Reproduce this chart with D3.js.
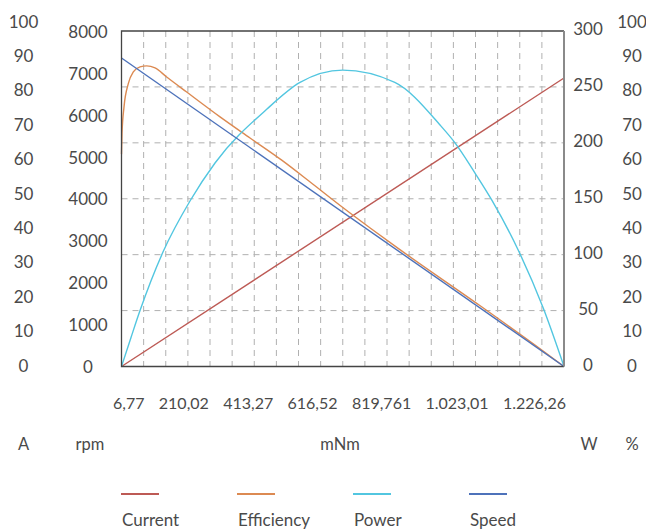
<!DOCTYPE html>
<html>
<head>
<meta charset="utf-8">
<script src="https://cdn.jsdelivr.net/npm/d3@7"></script>
<style>
  html, body { margin: 0; padding: 0; background: #fff; }
  text { font-family: Lato, "Open Sans", sans-serif; fill: #4a4a4a; }
</style>
</head>
<body>
<svg width="646" height="531"></svg>
<script>
// --- data ---
const torqueLabels = ['6,77', '210,02', '413,27', '616,52', '819,761', '1.023,01', '1.226,26'];
const ampTicks = [0, 10, 20, 30, 40, 50, 60, 70, 80, 90, 100];
const rpmTicks = [0, 1000, 2000, 3000, 4000, 5000, 6000, 7000, 8000];
const wattTicks = [0, 50, 100, 150, 200, 250, 300];
const pctTicks = [0, 10, 20, 30, 40, 50, 60, 70, 80, 90, 100];
const units = ['A', 'rpm', 'mNm', 'W', '%'];

// [torque mNm, value]
const currentData = [[6.77, 0], [1226.26, 86]];
const speedData = [[6.77, 7357], [1226.26, 0]];
const efficiencyData = [
  [6.77, 63.3], [8.15, 69.5], [13.7, 77.4], [25.5, 84.3], [39.3, 87.8], [57.8, 89.3],
  [76.2, 89.6], [99.1, 89.0], [131.3, 86.3], [186.5, 81.8], [278.3, 74.4], [361, 68.1],
  [448.3, 61.5], [526.7, 55.0], [609.4, 48.0], [692, 41.3], [769.2, 35.2], [995.2, 18.1],
  [1168.8, 4.6], [1226.26, 0]
];
const powerData = [
  [6.77, 0], [33, 26], [57.8, 50], [122, 103], [195.5, 148], [264.5, 182], [406.9, 230],
  [498.7, 254], [616.5, 265], [760, 254], [884.5, 216], [925.9, 200], [981, 173],
  [1027, 149], [1100.3, 104], [1169.3, 52], [1226.26, 0]
];

const series = [
  { name: 'Current', color: '#bd5a55', data: currentData, axis: 'A' },
  { name: 'Efficiency', color: '#dc8a52', data: efficiencyData, axis: 'pct' },
  { name: 'Power', color: '#52c6e0', data: powerData, axis: 'W' },
  { name: 'Speed', color: '#4d72ba', data: speedData, axis: 'rpm' }
];

const svg = d3.select('svg');

// --- plot frame ---
const L = 121.5, R = 564, T = 31, B = 366.5;

const x = d3.scaleLinear().domain([6.77, 1226.26]).range([L, R]);
const yScales = {
  A: d3.scaleLinear().domain([0, 100]).range([B, T]),
  rpm: d3.scaleLinear().domain([0, 8000]).range([B, T]),
  W: d3.scaleLinear().domain([0, 300]).range([B, T]),
  pct: d3.scaleLinear().domain([0, 100]).range([B, T])
};

// --- grid ---
const grid = svg.append('g')
  .attr('stroke', '#b0b0b0')
  .attr('stroke-width', 1)
  .attr('stroke-dasharray', '6,5');

const xDom = x.domain();
d3.range(1, 20).forEach(i => {
  const gx = x(xDom[0] + (xDom[1] - xDom[0]) * i / 20);
  grid.append('line').attr('x1', gx).attr('x2', gx).attr('y1', T).attr('y2', B);
});
wattTicks.slice(1, -1).forEach(v => {
  const gy = yScales.W(v);
  grid.append('line').attr('x1', L).attr('x2', R).attr('y1', gy).attr('y2', gy);
});

// --- curves ---
const lines = svg.append('g').attr('fill', 'none').attr('stroke-width', 1.4);
series.forEach(s => {
  const ys = yScales[s.axis];
  lines.append('path')
    .datum(s.data)
    .attr('stroke', s.color)
    .attr('d', d3.line().x(d => x(d[0])).y(d => ys(d[1])).curve(d3.curveMonotoneX));
});

// --- border ---
svg.append('path')
  .attr('d', `M${R},${T}H${L}V${B}H${R}`)
  .attr('fill', 'none')
  .attr('stroke', '#444')
  .attr('stroke-width', 1.3);
svg.append('line')
  .attr('x1', R).attr('x2', R).attr('y1', T).attr('y2', B)
  .attr('stroke', '#8a8a8a')
  .attr('stroke-width', 2);

// --- y labels (label columns are spread a little differently from the grid) ---
const labelCols = [
  { ticks: ampTicks, cx: 23.5, scale: d3.scaleLinear().domain([0, 100]).range([365, 21]) },
  { ticks: rpmTicks, cx: 88, scale: d3.scaleLinear().domain([0, 8000]).range([366, 31.7]) },
  { ticks: wattTicks, cx: 588, scale: d3.scaleLinear().domain([0, 300]).range([364, 28]) },
  { ticks: pctTicks, cx: 632, scale: d3.scaleLinear().domain([0, 100]).range([365, 21]) }
];
labelCols.forEach(col => {
  col.ticks.forEach(v => {
    svg.append('text')
      .attr('x', col.cx)
      .attr('y', col.scale(v))
      .attr('text-anchor', 'middle')
      .attr('dominant-baseline', 'central')
      .style('font-size', '17px')
      .text(v);
  });
});

// --- x labels, spread edge to edge with equal gaps ---
const xl = svg.append('g');
const xTexts = torqueLabels.map(t => xl.append('text')
  .attr('y', 402)
  .attr('dominant-baseline', 'central')
  .style('font-size', '16px')
  .text(t));
const widths = xTexts.map(t => t.node().getComputedTextLength());
const span0 = 113, span1 = 566;
const gap = (span1 - span0 - d3.sum(widths)) / (widths.length - 1);
let cur = span0;
xTexts.forEach((t, i) => {
  t.attr('x', cur);
  cur += widths[i] + gap;
});

// --- unit row ---
const unitX = [23.5, 90, 340, 589, 632];
units.forEach((u, i) => {
  svg.append('text')
    .attr('x', unitX[i])
    .attr('y', 444)
    .attr('text-anchor', 'middle')
    .attr('dominant-baseline', 'central')
    .style('font-size', '16.5px')
    .text(u);
});

// --- legend ---
const legend = svg.append('g');
series.forEach((s, i) => {
  const lx = 121 + i * 116;
  legend.append('line')
    .attr('x1', lx).attr('x2', lx + 38)
    .attr('y1', 494).attr('y2', 494)
    .attr('stroke', s.color)
    .attr('stroke-width', 2);
  legend.append('text')
    .attr('x', lx + 1)
    .attr('y', 519)
    .attr('dominant-baseline', 'central')
    .style('font-size', '17px')
    .text(s.name);
});
</script>
</body>
</html>
